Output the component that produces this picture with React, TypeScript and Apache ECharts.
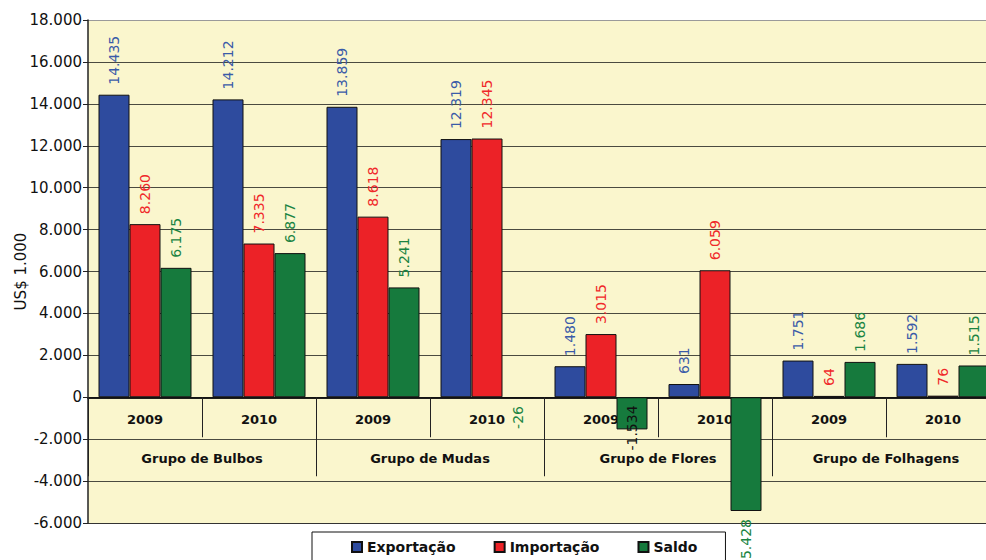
import React, { useEffect, useRef } from "react";
import * as echarts from "echarts";

const years = ["2009", "2010", "2009", "2010", "2009", "2010", "2009", "2010"];
const groups = ["Grupo de Bulbos", "Grupo de Mudas", "Grupo de Flores", "Grupo de Folhagens"];
const exportacao = [14435, 14212, 13859, 12319, 1480, 631, 1751, 1592];
const importacao = [8260, 7335, 8618, 12345, 3015, 6059, 64, 76];
const saldo = [6175, 6877, 5241, -26, -1534, -5428, 1686, 1515];
const seriesNames = ["Exportação", "Importação", "Saldo"];
const yMin = -6000;
const yMax = 18000;
const yStep = 2000;

const FONT = "DejaVu Sans";
const GRID_TOP = 20;
const GRID_H = 503;

function fmt(n: number): string {
  const s = Math.abs(n).toString().replace(/\B(?=(\d{3})+(?!\d))/g, ".");
  return (n < 0 ? "-" : "") + s;
}

function buildData(values: number[]) {
  return values.map((v) => {
    if (v >= 0) return v;
    if (v === -1534) {
      return { value: v, label: { position: "bottom", align: "right", distance: -24, color: "#111" } };
    }
    return { value: v, label: { position: "bottom", align: "right", distance: 8 } };
  });
}

export default function App() {
  const ref = useRef<HTMLDivElement>(null);
  useEffect(() => {
    if (!ref.current) return;
    const chart = echarts.init(ref.current, undefined, { renderer: "svg" });
    // distance from the grid bottom up to the zero line, computed from the value scale
    const zeroOffset = -(GRID_H * (0 - yMin)) / (yMax - yMin);
    const labelBase = {
      show: true,
      position: "top",
      rotate: 90,
      align: "left",
      verticalAlign: "middle",
      distance: 10,
      fontSize: 14,
      fontWeight: "normal",
      fontFamily: FONT,
      formatter: (p: any) => fmt(p.value),
    };
    const colors = ["#2E4B9E", "#EC2227", "#167A3D"];
    const labelColors = ["#3A5BA8", "#F0282A", "#1B8443"];
    const vals = [exportacao, importacao, saldo];
    chart.setOption({
      animation: false,
      backgroundColor: "#ffffff",
      textStyle: { fontFamily: FONT },
      grid: {
        left: 88,
        top: GRID_TOP,
        width: 912,
        height: GRID_H,
        show: true,
        backgroundColor: "#FAF6CD",
        borderWidth: 0,
        outerBoundsMode: "none",
        containLabel: false,
      },
      legend: {
        data: seriesNames,
        left: 312,
        top: 532,
        orient: "horizontal",
        backgroundColor: "#ffffff",
        borderColor: "#111",
        borderWidth: 1,
        borderRadius: 0,
        padding: [8, 28, 12, 39],
        itemGap: 38,
        itemWidth: 10,
        itemHeight: 10,
        icon: "rect",
        textStyle: { fontSize: 14, fontWeight: "bold", color: "#111", fontFamily: FONT },
      },
      xAxis: [
        {
          type: "category",
          data: years,
          position: "bottom",
          offset: zeroOffset,
          axisLine: { show: true, onZero: false, lineStyle: { color: "#111", width: 1.5 } },
          axisTick: { show: true, length: 40, interval: 0, lineStyle: { color: "#222", width: 1 } },
          axisLabel: { interval: 0, margin: 16, fontSize: 13, fontWeight: "bold", color: "#111", fontFamily: FONT },
          splitLine: { show: false },
        },
        {
          type: "category",
          data: groups,
          position: "bottom",
          offset: zeroOffset,
          axisLine: { show: true, onZero: false, lineStyle: { color: "#111", width: 1.5 } },
          axisTick: { show: true, length: 79, interval: 0, lineStyle: { color: "#222", width: 1 } },
          axisLabel: { interval: 0, margin: 55, fontSize: 13, fontWeight: "bold", color: "#111", fontFamily: FONT },
          splitLine: { show: false },
        },
      ],
      yAxis: {
        type: "value",
        min: yMin,
        max: yMax,
        interval: yStep,
        name: "US$ 1.000",
        nameLocation: "middle",
        nameGap: 60,
        nameMoveOverlap: false,
        nameTextStyle: { fontSize: 15, color: "#111", fontFamily: FONT },
        axisLine: { show: true, onZero: false, lineStyle: { color: "#222", width: 1.5 } },
        axisTick: { show: true, length: 5, lineStyle: { color: "#222" } },
        axisLabel: { margin: 6, fontSize: 15, color: "#111", fontFamily: FONT, formatter: (v: number) => fmt(v) },
        splitLine: {
          show: true,
          lineStyle: {
            color: ["#333", "#4a4a40", "#4a4a40", "#4a4a40", "#4a4a40", "#4a4a40", "#4a4a40", "#4a4a40", "#4a4a40", "#4a4a40", "#4a4a40", "#4a4a40", "#9a9a9a"],
            width: 1,
          },
        },
      },
      series: seriesNames.map((name, i) => ({
        name,
        type: "bar",
        xAxisIndex: 0,
        yAxisIndex: 0,
        barWidth: 31,
        barGap: "0%",
        data: buildData(vals[i]),
        itemStyle: { color: colors[i], borderColor: "#111", borderWidth: 1 },
        label: { ...labelBase, color: labelColors[i] },
      })),
    });
    return () => chart.dispose();
  }, []);
  return <div ref={ref} style={{ position: "absolute", left: 0, top: 0, width: 986, height: 560 }} />;
}
